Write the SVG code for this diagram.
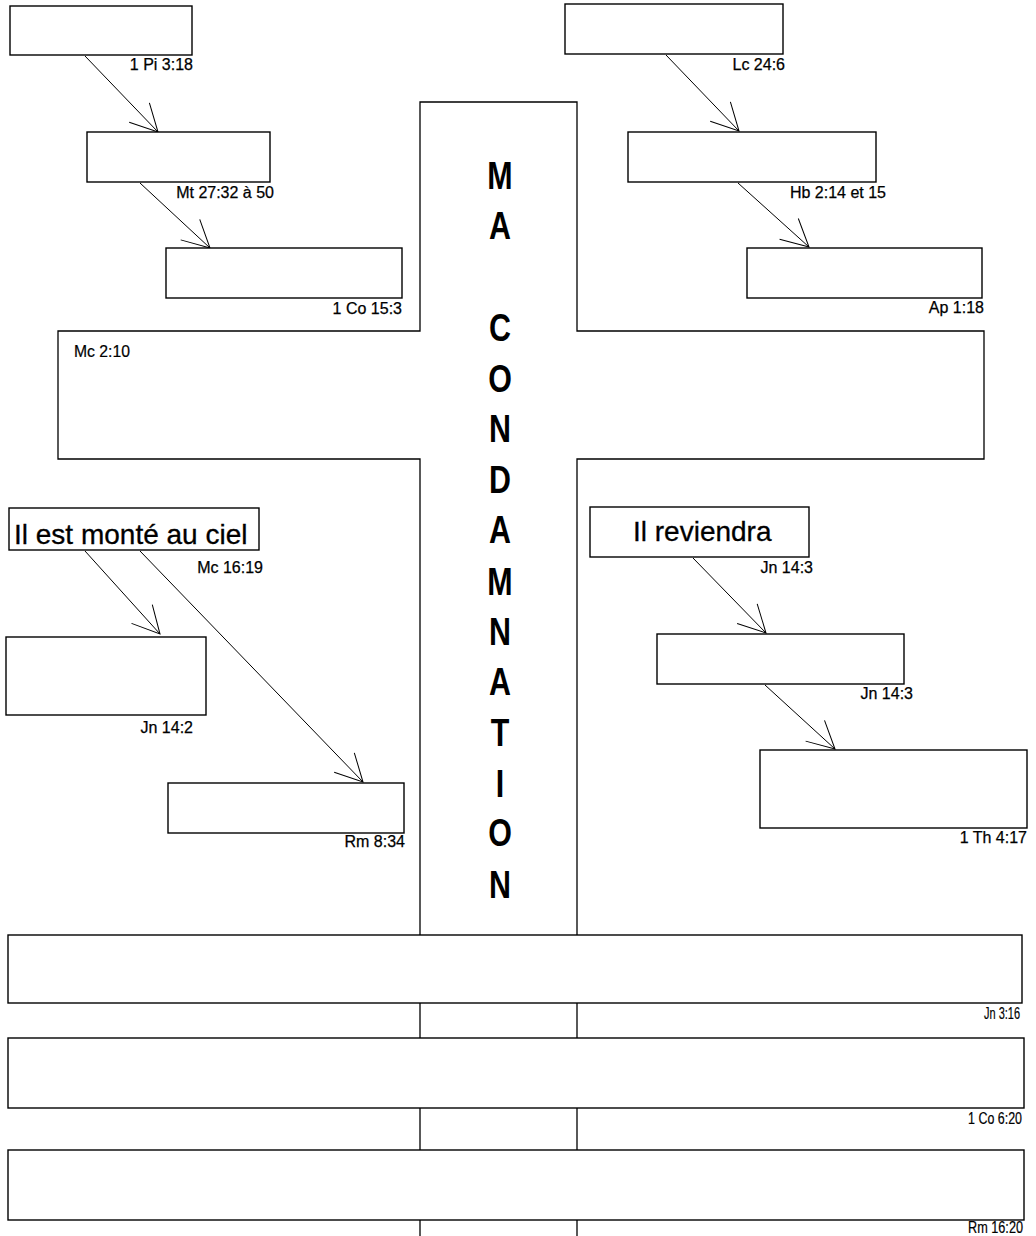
<svg xmlns="http://www.w3.org/2000/svg" width="1036" height="1236" viewBox="0 0 1036 1236">
<defs>
<style>
.box{fill:#fff;stroke:#000;stroke-width:1.4}
.outline{fill:none;stroke:#000;stroke-width:1.3}
.con{fill:none;stroke:#000;stroke-width:1}
.ref{font-family:"Liberation Sans",Arial,sans-serif;font-size:16px;fill:#000;stroke:#000;stroke-width:0.25;text-anchor:end}
.refn{font-family:"Liberation Sans",Arial,sans-serif;font-size:16px;fill:#000;stroke:#000;stroke-width:0.2}
.refe{text-anchor:end}
.big{font-family:"Liberation Sans",Arial,sans-serif;font-size:28px;fill:#000;stroke:#000;stroke-width:0.3}
.cross{font-family:"Liberation Sans",Arial,sans-serif;font-size:38px;font-weight:bold;fill:#000;text-anchor:middle}
</style>
<marker id="v" markerUnits="userSpaceOnUse" markerWidth="40" markerHeight="40" viewBox="-35 -20 40 40" refX="0" refY="0" orient="auto">
<path d="M-27,-14 L0,0 L-27,14" fill="none" stroke="#000" stroke-width="1"/>
</marker>
</defs>
<rect width="1036" height="1236" fill="#fff"/>

<g id="cross">
<path class="outline" d="M420,935 L420,459 L58,459 L58,331 L420,331 L420,102 L577,102 L577,331 L984,331 L984,459 L577,459 L577,935"/>
<path class="outline" d="M420,1003 V1038 M577,1003 V1038 M420,1108 V1150 M577,1108 V1150 M420,1220 V1236 M577,1220 V1236"/>
<text class="refn" x="74" y="357" textLength="56" lengthAdjust="spacingAndGlyphs">Mc 2:10</text>
<g transform="translate(500 0) scale(0.8 1)">
<text class="cross" x="0" y="189">M</text>
<text class="cross" x="0" y="239">A</text>
<text class="cross" x="0" y="341">C</text>
<text class="cross" x="0" y="392">O</text>
<text class="cross" x="0" y="442">N</text>
<text class="cross" x="0" y="493">D</text>
<text class="cross" x="0" y="543">A</text>
<text class="cross" x="0" y="595">M</text>
<text class="cross" x="0" y="645">N</text>
<text class="cross" x="0" y="695">A</text>
<text class="cross" x="0" y="746">T</text>
<text class="cross" x="0" y="797">I</text>
<text class="cross" x="0" y="846">O</text>
<text class="cross" x="0" y="898">N</text>
</g>
</g>

<g id="connectors">
<line class="con" x1="85" y1="56" x2="158" y2="132" marker-end="url(#v)"/>
<line class="con" x1="140" y1="183" x2="210" y2="248" marker-end="url(#v)"/>
<line class="con" x1="666" y1="55" x2="739" y2="131" marker-end="url(#v)"/>
<line class="con" x1="738" y1="183" x2="809" y2="247" marker-end="url(#v)"/>
<line class="con" x1="85" y1="551" x2="160" y2="634" marker-end="url(#v)"/>
<line class="con" x1="140" y1="551" x2="363" y2="782" marker-end="url(#v)"/>
<line class="con" x1="693" y1="558" x2="766" y2="633" marker-end="url(#v)"/>
<line class="con" x1="765" y1="685" x2="835" y2="749" marker-end="url(#v)"/>
</g>

<g id="n-1pi">
<rect class="box" x="10" y="6" width="182" height="49"/>
<text class="ref" x="193" y="70">1 Pi 3:18</text>
</g>
<g id="n-mt">
<rect class="box" x="87" y="132" width="183" height="50"/>
<text class="ref" x="274" y="198">Mt 27:32 à 50</text>
</g>
<g id="n-1co15">
<rect class="box" x="166" y="248" width="236" height="50"/>
<text class="ref" x="402" y="314">1 Co 15:3</text>
</g>
<g id="n-lc">
<rect class="box" x="565" y="4" width="218" height="50"/>
<text class="ref" x="785" y="70">Lc 24:6</text>
</g>
<g id="n-hb">
<rect class="box" x="628" y="132" width="248" height="50"/>
<text class="ref" x="886" y="198">Hb 2:14 et 15</text>
</g>
<g id="n-ap">
<rect class="box" x="747" y="248" width="235" height="50"/>
<text class="ref" x="984" y="313">Ap 1:18</text>
</g>
<g id="n-monte">
<rect class="box" x="9" y="508" width="250" height="42"/>
<text class="big" x="14" y="544">Il est monté au ciel</text>
<text class="ref" x="263" y="573">Mc 16:19</text>
</g>
<g id="n-jn142">
<rect class="box" x="6" y="637" width="200" height="78"/>
<text class="ref" x="193" y="733">Jn 14:2</text>
</g>
<g id="n-rm834">
<rect class="box" x="168" y="783" width="236" height="50"/>
<text class="ref" x="405" y="847">Rm 8:34</text>
</g>
<g id="n-reviendra">
<rect class="box" x="590" y="507" width="219" height="50"/>
<text class="big" x="633" y="541">Il reviendra</text>
<text class="ref" x="813" y="573">Jn 14:3</text>
</g>
<g id="n-jn143">
<rect class="box" x="657" y="634" width="247" height="50"/>
<text class="ref" x="913" y="699">Jn 14:3</text>
</g>
<g id="n-1th">
<rect class="box" x="760" y="750" width="267" height="78"/>
<text class="ref" x="1027" y="843">1 Th 4:17</text>
</g>
<g id="n-jn316">
<rect class="box" x="8" y="935" width="1014" height="68"/>
<text class="refn refe" x="1020" y="1019" textLength="36" lengthAdjust="spacingAndGlyphs">Jn 3:16</text>
</g>
<g id="n-1co620">
<rect class="box" x="8" y="1038" width="1016" height="70"/>
<text class="refn refe" x="1022" y="1124" textLength="54" lengthAdjust="spacingAndGlyphs">1 Co 6:20</text>
</g>
<g id="n-rm1620">
<rect class="box" x="8" y="1150" width="1016" height="70"/>
<text class="refn refe" x="1023" y="1233" textLength="55" lengthAdjust="spacingAndGlyphs">Rm 16:20</text>
</g>
</svg>
